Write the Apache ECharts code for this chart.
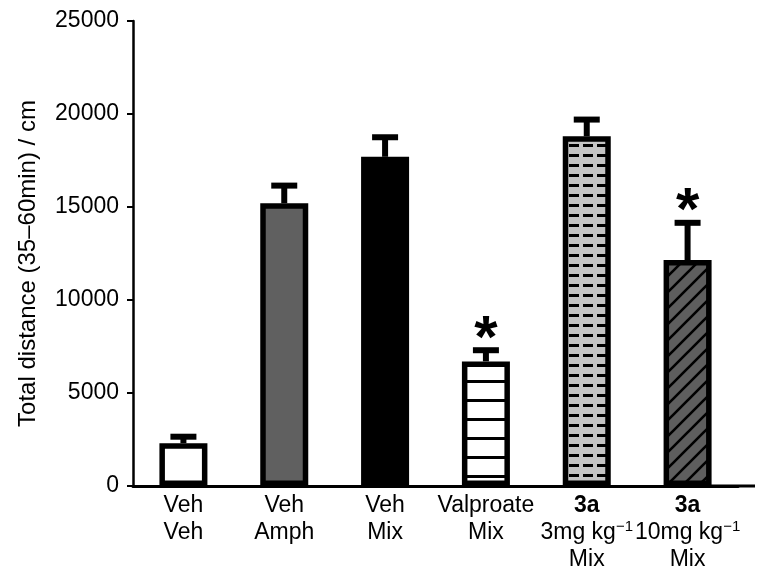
<!DOCTYPE html>
<html><head><meta charset="utf-8">
<script src="https://cdn.jsdelivr.net/npm/echarts@6/dist/echarts.min.js"></script>
<style>html,body{margin:0;padding:0;background:#fff}#c{width:757px;height:568px}</style>
</head><body><div id="c"></div>
<script>
const categories = ['Veh\nVeh', 'Veh\nAmph', 'Veh\nMix', 'Valproate\nMix', '{b|3a}\n3mg kg{s|−1}\nMix', '{b|3a}\n10mg kg{s|−1}\nMix'];
const means = [2300, 15200, 17700, 6700, 18800, 12150];
const errTops = [2650, 16150, 18750, 7300, 19700, 14150];
const significant = [false, false, false, true, false, true];
const yTicks = { min: 0, max: 25000, interval: 5000 };
const yName = 'Total distance (35–60min) / cm';

const FONT = '"Liberation Sans", Arial, sans-serif';
function tile(w, h, draw) { const c = document.createElement('canvas'); c.width = w; c.height = h; draw(c.getContext('2d')); return c; }
const pHoriz = tile(4, 19, ctx => { ctx.fillStyle = '#fff'; ctx.fillRect(0, 0, 4, 19); ctx.fillStyle = '#000'; ctx.fillRect(0, 0, 4, 3); });
const pDash = tile(14, 10, ctx => { ctx.fillStyle = '#c4c4c4'; ctx.fillRect(0, 0, 14, 10); ctx.fillStyle = '#000'; ctx.fillRect(9, 4, 5, 3); ctx.fillRect(0, 4, 5, 3); });
const pDiag = tile(16, 16, ctx => { ctx.fillStyle = '#5e5e5e'; ctx.fillRect(0, 0, 16, 16); ctx.strokeStyle = '#000'; ctx.lineWidth = 2.6;
  ctx.beginPath(); ctx.moveTo(0, 16); ctx.lineTo(16, 0); ctx.moveTo(-2, 2); ctx.lineTo(2, -2); ctx.moveTo(14, 18); ctx.lineTo(18, 14); ctx.stroke(); });
const fills = ['#ffffff', '#606060', '#000000', { image: pHoriz, repeat: 'repeat' }, { image: pDash, repeat: 'repeat' }, { image: pDiag, repeat: 'repeat' }];

const chart = echarts.init(document.getElementById('c'), null, { renderer: 'canvas' });
chart.setOption({
  animation: false,
  backgroundColor: '#fff',
  grid: { left: 133, right: 19, top: 21, bottom: 82, containLabel: false, outerBoundsMode: 'none' },
  xAxis: {
    type: 'category', data: categories,
    axisLine: { lineStyle: { color: '#000', width: 3 } },
    axisTick: { show: false },
    axisLabel: {
      interval: 0, margin: 6, color: '#000', fontFamily: FONT, fontSize: 23, lineHeight: 27, hideOverlap: false,
      rich: { b: { fontWeight: 'bold', fontFamily: FONT, fontSize: 23, lineHeight: 27 },
              s: { fontFamily: FONT, fontSize: 15, verticalAlign: 'top', lineHeight: 27, padding: [0, 0, 12, 0] } }
    }
  },
  yAxis: {
    type: 'value', min: yTicks.min, max: yTicks.max, interval: yTicks.interval,
    name: yName, nameLocation: 'middle', nameGap: 93, nameRotate: 90,
    nameTextStyle: { color: '#000', fontFamily: FONT, fontSize: 24, padding: [0, 20, 0, 0] },
    axisLine: { show: true, lineStyle: { color: '#000', width: 2.5 } },
    axisTick: { show: true, length: 6, lineStyle: { color: '#000', width: 2 } },
    axisLabel: { color: '#000', fontFamily: FONT, fontSize: 23, margin: 14, formatter: v => String(v) },
    splitLine: { show: false }
  },
  series: [
    {
      type: 'bar', barWidth: 48,
      data: means.map((v, i) => ({ value: v, itemStyle: { color: fills[i] } })),
      itemStyle: { borderColor: '#000', borderWidth: 5.5 }
    },
    {
      type: 'custom', z: 5,
      data: means.map((v, i) => [i, v, errTops[i], significant[i] ? 1 : 0]),
      renderItem: function (params, api) {
        const base = api.coord([api.value(0), api.value(1)]);
        const top = api.coord([api.value(0), api.value(2)]);
        const x = base[0];
        const children = [
          { type: 'rect', shape: { x: x - 3, y: top[1], width: 6, height: base[1] - top[1] }, style: { fill: '#000' } },
          { type: 'rect', shape: { x: x - 13, y: top[1] - 3, width: 26, height: 6 }, style: { fill: '#000' } }
        ];
        if (api.value(3)) {
          children.push({ type: 'text', style: { text: '*', x: x, y: top[1] + 20, align: 'center', verticalAlign: 'bottom',
            font: 'bold 60px ' + FONT, fill: '#000' } });
        }
        return { type: 'group', children: children };
      }
    }
  ]
});
const y0 = chart.convertToPixel({ yAxisIndex: 0 }, 0);
const xr = chart.convertToPixel({ xAxisIndex: 0 }, 5) + 51;
chart.setOption({ graphic: [{ type: 'line', shape: { x1: xr - 30, y1: y0, x2: 755, y2: y0 }, style: { stroke: '#000', lineWidth: 3 } }] });
</script></body></html>
